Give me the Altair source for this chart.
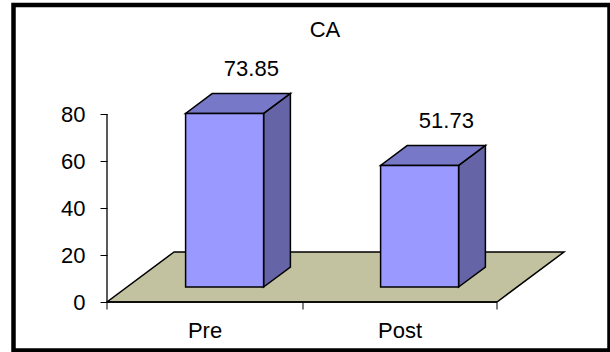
import altair as alt
import pandas as pd

# ---------------- data ----------------
categories = ["Pre", "Post"]
values = [73.85, 51.73]
y_ticks = [0, 20, 40, 60, 80]
chart_title = "CA"

# ---------------- style / projection ----------------
FONT = "Liberation Sans"
FS = 22
VIEW_W, VIEW_H = 596, 345.5          # frame (view) size
PX_U, PX_V = 195.0, 2.35             # pixels per category unit / per value unit
ORIGIN_X, ORIGIN_Y = 93.5, 297.0     # data origin inside the view (pixels)
DEPTH_U = 67 / PX_U                  # 3-D depth shift, in x units
DEPTH_V = 50 / PX_V                  # 3-D depth shift, in value units
Z0, Z1 = 0.3, 0.7                    # bar depth range (fraction of floor depth)
HALF = 0.2                           # half bar width (category units)

FRONT = "#9999ff"
TOP = "#7878c8"
SIDE = "#6464a6"
FLOOR = "#c2c2a0"

n = len(categories)
centers = [i + 0.5 for i in range(n)]

x_scale = alt.Scale(domain=[-ORIGIN_X / PX_U, (VIEW_W - ORIGIN_X) / PX_U], nice=False, zero=False)
y_scale = alt.Scale(domain=[-(VIEW_H - ORIGIN_Y) / PX_V, ORIGIN_Y / PX_V], nice=False, zero=False)

# ---------------- derived tables ----------------
floor_df = pd.DataFrame({"v": [0, DEPTH_V], "xa": [0, DEPTH_U], "xb": [n, n + DEPTH_U]})

front_rows, top_rows, side_rows, label_rows = [], [], [], []
for cat, c, val in zip(categories, centers, values):
    f0 = Z0 * DEPTH_V
    b0 = Z1 * DEPTH_V
    front_rows.append({"cat": cat, "x": c - HALF + Z0 * DEPTH_U, "x2": c + HALF + Z0 * DEPTH_U,
                       "y": f0, "y2": f0 + val})
    top_rows.append({"cat": cat, "v": f0 + val, "xa": c - HALF + Z0 * DEPTH_U, "xb": c + HALF + Z0 * DEPTH_U})
    top_rows.append({"cat": cat, "v": b0 + val, "xa": c - HALF + Z1 * DEPTH_U, "xb": c + HALF + Z1 * DEPTH_U})
    side_rows.append({"cat": cat, "u": c + HALF + Z0 * DEPTH_U, "ya": f0, "yb": f0 + val})
    side_rows.append({"cat": cat, "u": c + HALF + Z1 * DEPTH_U, "ya": b0, "yb": b0 + val})
    label_rows.append({"cat": cat, "u": c + Z1 * DEPTH_U, "v": b0 + val, "label": f"{val:.2f}"})

front_df = pd.DataFrame(front_rows)
top_df = pd.DataFrame(top_rows)
side_df = pd.DataFrame(side_rows)
label_df = pd.DataFrame(label_rows)

# ---------------- axes ----------------
x_values = sorted(set([float(i) for i in range(n + 1)] + centers))
label_expr = " : ".join(f"datum.value == {c} ? '{cat}'" for cat, c in zip(categories, centers)) + " : ''"

x_axis = alt.Axis(values=x_values, labelExpr=label_expr, title=None, grid=False, domain=False,
                  offset=-(VIEW_H - ORIGIN_Y), tickSize=7, tickColor="black", tickWidth=1,
                  tickOpacity={"condition": {"test": "datum.value % 1 == 0", "value": 1}, "value": 0},
                  labelPadding=11, labelFont=FONT, labelFontSize=FS, labelColor="black",
                  labelOverlap=False, labelFlush=False)
y_axis = alt.Axis(values=y_ticks, title=None, grid=False, domain=False, offset=-ORIGIN_X,
                  tickSize=7, tickColor="black", tickWidth=1, labelPadding=15,
                  labelFont=FONT, labelFontSize=FS, labelColor="black", labelFlush=False)

# ---------------- layers ----------------
floor = alt.Chart(floor_df).mark_area(orient="horizontal", fill=FLOOR, stroke="black", strokeWidth=1.5).encode(
    y=alt.Y("v:Q", scale=y_scale, axis=y_axis, stack=None),
    x=alt.X("xa:Q", scale=x_scale, axis=x_axis, stack=None),
    x2="xb:Q",
)

x_line = alt.Chart(pd.DataFrame({"x": [0], "x2": [n], "y": [0]})).mark_rule(color="black", strokeWidth=1.5).encode(
    x=alt.X("x:Q", scale=x_scale, axis=x_axis), x2="x2:Q",
    y=alt.Y("y:Q", scale=y_scale, axis=y_axis),
)
y_line = alt.Chart(pd.DataFrame({"x": [0], "y": [y_ticks[0]], "y2": [y_ticks[-1]]})).mark_rule(color="black", strokeWidth=1.3).encode(
    x=alt.X("x:Q", scale=x_scale, axis=x_axis),
    y=alt.Y("y:Q", scale=y_scale, axis=y_axis), y2="y2:Q",
)

side = alt.Chart(side_df).mark_area(orient="vertical", fill=SIDE, stroke="black", strokeWidth=1.5).encode(
    x=alt.X("u:Q", scale=x_scale, axis=x_axis, stack=None),
    y=alt.Y("ya:Q", scale=y_scale, axis=y_axis, stack=None),
    y2="yb:Q",
    detail="cat:N",
)
top = alt.Chart(top_df).mark_area(orient="horizontal", fill=TOP, stroke="black", strokeWidth=1.5).encode(
    y=alt.Y("v:Q", scale=y_scale, axis=y_axis, stack=None),
    x=alt.X("xa:Q", scale=x_scale, axis=x_axis, stack=None),
    x2="xb:Q",
    detail="cat:N",
)
front = alt.Chart(front_df).mark_rect(fill=FRONT, stroke="black", strokeWidth=1.5).encode(
    x=alt.X("x:Q", scale=x_scale, axis=x_axis), x2="x2:Q",
    y=alt.Y("y:Q", scale=y_scale, axis=y_axis), y2="y2:Q",
)
labels = alt.Chart(label_df).mark_text(font=FONT, fontSize=FS, color="black", baseline="alphabetic", dy=-17).encode(
    x=alt.X("u:Q", scale=x_scale, axis=x_axis),
    y=alt.Y("v:Q", scale=y_scale, axis=y_axis),
    text="label:N",
)

chart = alt.layer(floor, x_line, y_line, side, top, front, labels).properties(
    width=VIEW_W, height=VIEW_H,
    title=alt.Title(chart_title, font=FONT, fontSize=FS, fontWeight="normal", color="black",
                    anchor="middle", frame="group", offset=0, dx=13.5, dy=54, baseline="alphabetic"),
    autosize=alt.AutoSizeParams(type="none"),
    padding={"left": 13.5, "top": 5, "right": 0.5, "bottom": 1.5},
    background="white",
).configure_view(stroke="black", strokeWidth=4.5, fill="white")

chart.save("out.html", embed_options={"renderer": "svg", "actions": False})
